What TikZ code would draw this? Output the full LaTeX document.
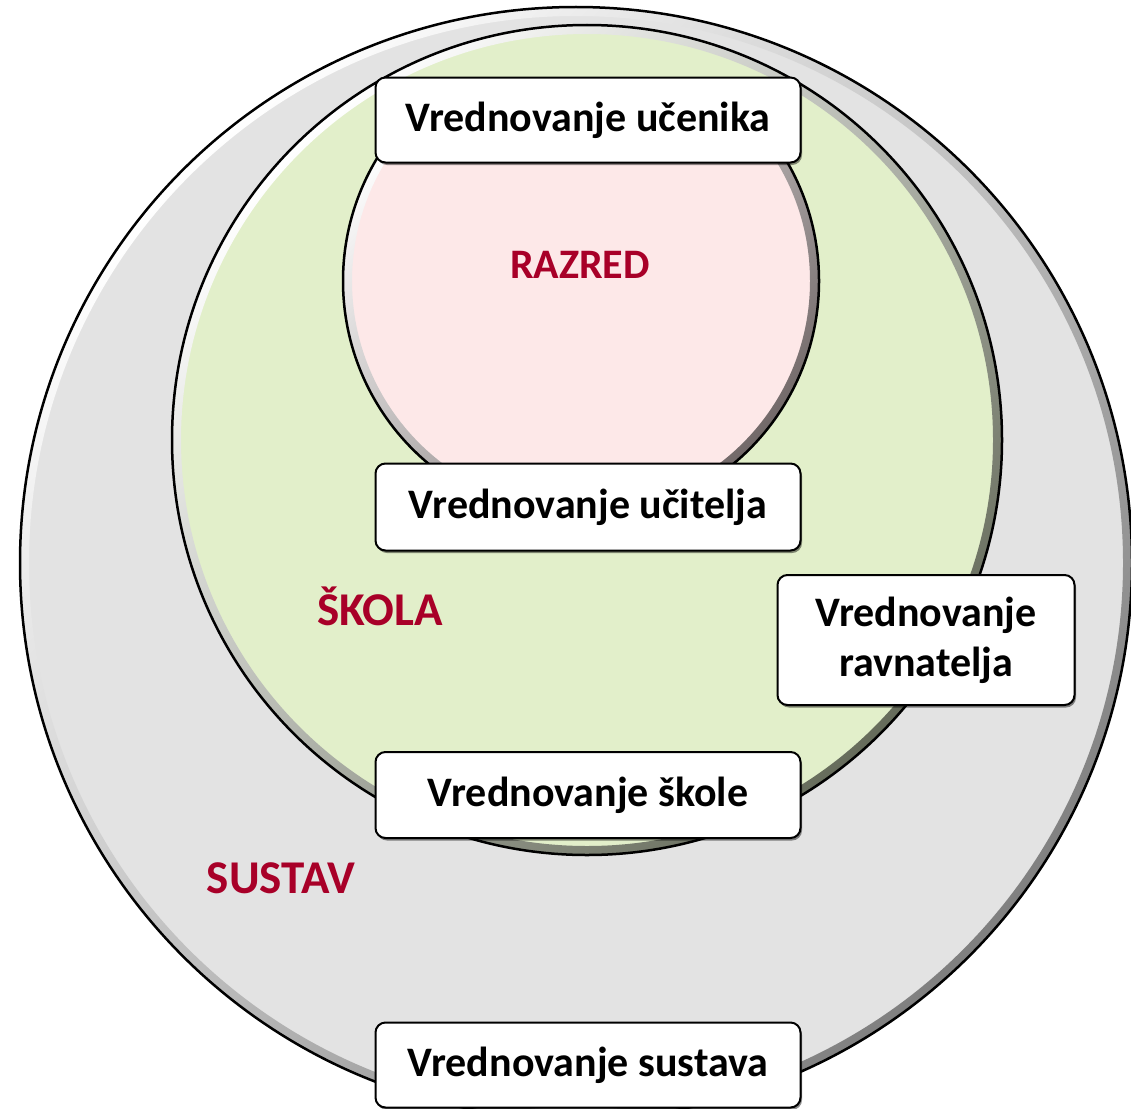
\documentclass[tikz,border=0pt]{standalone}
\usepackage{fontspec}
\setmainfont{Carlito}
\usetikzlibrary{shadows}

\definecolor{sustavgray}{RGB}{227,227,227}
\definecolor{skolagreen}{RGB}{226,239,202}
\definecolor{razredpink}{RGB}{253,232,232}
\definecolor{labelred}{RGB}{168,0,40}

\tikzset{
    evalbox/.style={draw=black, line width=2pt, fill=white, rounded corners=10pt,
        minimum width=425pt, minimum height=85pt, inner sep=0pt, align=center,
        font=\fontsize{42}{50}\selectfont\bfseries,
        drop shadow={shadow xshift=1.5pt, shadow yshift=-2.5pt, fill=black, opacity=0.45}},
    arealabel/.style={text=labelred, inner sep=0pt, anchor=base,
        font=\fontsize{47}{55}\selectfont\bfseries},
    rim/.style={line width=2.5pt, draw=black}
}

\begin{document}
\begin{tikzpicture}[x=1pt, y=-1pt]
    \useasboundingbox (0,0) rectangle (1131,1108);

    % Sustav - outer circle
    \fill[sustavgray] (576,563) circle (556);
    \shade[even odd rule, top color=white, bottom color=black!50, shading angle=45]
        (576,563) circle (556) (576,563) circle (547);
    \draw[rim] (576,563) circle (556);

    % Skola
    \fill[skolagreen] (587,440) circle (415);
    \shade[even odd rule, top color=white, bottom color=skolagreen!45!black, shading angle=45]
        (587,440) circle (415) (587,440) circle (406);
    \draw[rim] (587,440) circle (415);

    % Razred - circle cut flat at the top, under the first box
    \begin{scope}
        \clip (300,140) rectangle (900,600);
        \fill[razredpink] (581,281) circle (238);
        \shade[even odd rule, top color=white, bottom color=razredpink!45!black, shading angle=45]
            (581,281) circle (238) (581,281) circle (229);
        \draw[rim] (581,281) circle (238);
    \end{scope}

    % labels of the areas
    \node[arealabel, font=\fontsize{42}{50}\selectfont\bfseries] (razred) at (580,278) {RAZRED};
    \node[arealabel] (skola) at (380,625) {ŠKOLA};
    \node[arealabel] (sustav) at (281,893) {SUSTAV};

    % evaluation boxes
    \node[evalbox] (ucenika) at (588,120) {Vrednovanje učenika};
    \node[evalbox, minimum height=87pt] (ucitelja) at (588,507) {Vrednovanje učitelja};
    \node[evalbox, minimum width=297pt, minimum height=130pt] (ravnatelja) at (926,640)
        {Vrednovanje\\ravnatelja};
    \node[evalbox, minimum height=86pt] (skole) at (588,795) {Vrednovanje škole};
    \node[evalbox] (sustava) at (588,1065) {Vrednovanje sustava};
\end{tikzpicture}
\end{document}
